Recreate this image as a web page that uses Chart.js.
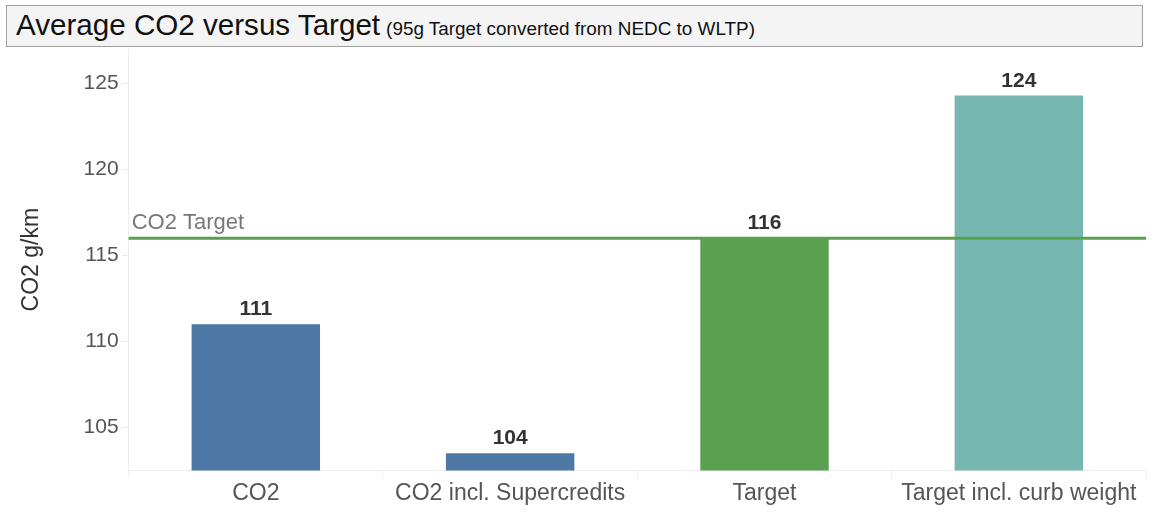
<!DOCTYPE html>
<html>
<head>
<meta charset="utf-8">
<script src="https://cdn.jsdelivr.net/npm/chart.js@4.4.0/dist/chart.umd.min.js"></script>
<style>
  html, body { margin: 0; padding: 0; background: #fff; }
  #wrap { position: relative; width: 1158px; height: 512px; }
  #title {
    position: absolute; left: 6px; top: 5px; width: 1137px; height: 42px;
    background: #f4f4f4; border: 1px solid #a0a0a0; box-sizing: border-box;
    font-family: "Liberation Sans", Arial, sans-serif; color: #111;
    white-space: nowrap; overflow: hidden; padding-left: 9px; line-height: 38px;
  }
  #title .main { font-size: 29.6px; }
  #title .sub { font-size: 18.9px; margin-left: 6px; }
  #chart { position: absolute; left: 0; top: 0; }
</style>
</head>
<body>
<div id="wrap">
  <canvas id="chart" width="1158" height="512"></canvas>
  <div id="title"><span class="main">Average CO2 versus Target</span><span class="sub">(95g Target converted from NEDC to WLTP)</span></div>
</div>
<script>
const categories = ['CO2', 'CO2 incl. Supercredits', 'Target', 'Target incl. curb weight'];
const co2Values = [111, 103.5, 116, 124.3];
const barColors = ['#4e79a7', '#4e79a7', '#59a14f', '#76b7b2'];
const yTicks = [105, 110, 115, 120, 125];
const targetValue = 116;
const targetLabel = 'CO2 Target';

const FONT = '"Liberation Sans", Arial, sans-serif';

// value labels above bars + the target line
const annotate = {
  id: 'annotate',
  afterDatasetsDraw(chart) {
    const c = chart.ctx;
    const y = chart.scales.y;
    const area = chart.chartArea;
    const ty = y.getPixelForValue(targetValue);
    c.save();
    c.strokeStyle = '#59a14f';
    c.lineWidth = 3;
    c.beginPath();
    c.moveTo(area.left, ty);
    c.lineTo(area.right, ty);
    c.stroke();
    c.fillStyle = '#777';
    c.font = '22px ' + FONT;
    c.textAlign = 'left';
    c.textBaseline = 'bottom';
    c.fillText(targetLabel, area.left + 3, ty - 4);

    const meta = chart.getDatasetMeta(0);
    c.fillStyle = '#333';
    c.font = 'bold 21px ' + FONT;
    c.textAlign = 'center';
    c.textBaseline = 'bottom';
    meta.data.forEach((bar, i) => {
      c.fillText(String(Math.round(co2Values[i])), bar.x, bar.y - 4);
    });
    c.restore();
  }
};

new Chart(document.getElementById('chart'), {
  type: 'bar',
  data: {
    labels: categories,
    datasets: [{
      data: co2Values,
      backgroundColor: barColors,
      categoryPercentage: 1,
      barPercentage: 0.505
    }]
  },
  plugins: [annotate],
  options: {
    responsive: false,
    animation: false,
    layout: { padding: { top: 49, right: 12, bottom: 3, left: 18 } },
    plugins: {
      legend: { display: false },
      tooltip: { enabled: false }
    },
    scales: {
      x: {
        grid: { display: true, drawOnChartArea: false, offset: true, tickLength: 7, color: '#eeeeee' },
        border: { display: true, color: '#ececec' },
        ticks: { color: '#555', font: { family: FONT, size: 23 }, padding: 2 }
      },
      y: {
        min: 102.5,
        max: 127,
        afterBuildTicks: axis => { axis.ticks = yTicks.map(v => ({ value: v })); },
        grid: { display: true, drawOnChartArea: false, tickLength: 7, color: '#e8e8e8' },
        border: { display: true, color: '#ececec' },
        title: { display: true, text: 'CO2 g/km', color: '#333', font: { family: FONT, size: 23 }, padding: { top: 0, bottom: 35 } },
        ticks: { color: '#555', font: { family: FONT, size: 21 }, padding: 3 }
      }
    }
  }
});
</script>
</body>
</html>
